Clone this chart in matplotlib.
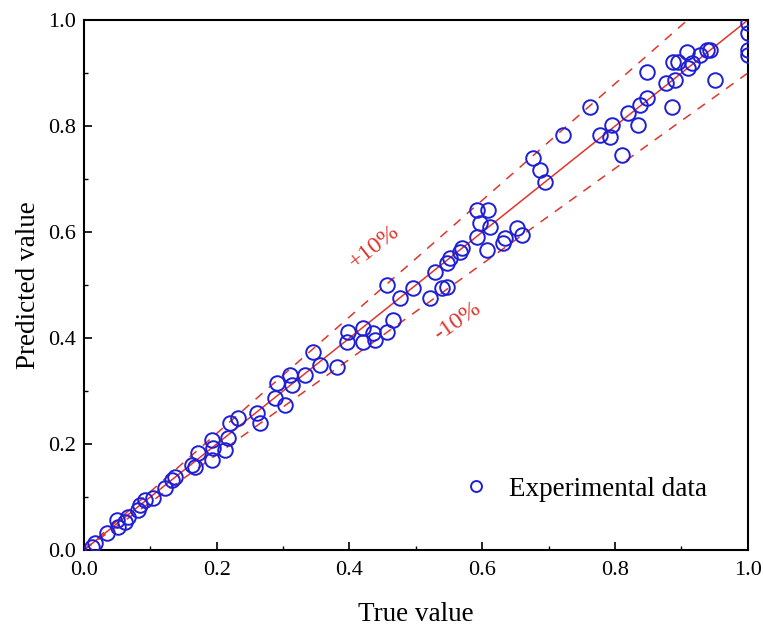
import matplotlib
matplotlib.use("Agg")
import matplotlib.pyplot as plt
import numpy as np
from matplotlib.ticker import MultipleLocator

true_vals = [0.012, 0.017, 0.035, 0.051, 0.062, 0.050, 0.066, 0.081, 0.084, 0.092,
             0.104, 0.122, 0.133, 0.137, 0.163, 0.172, 0.167, 0.193, 0.193, 0.194,
             0.212, 0.217, 0.220, 0.232,
             0.261, 0.265, 0.291, 0.288, 0.303, 0.310, 0.313, 0.333, 0.345, 0.355,
             0.381, 0.396, 0.398, 0.420, 0.420, 0.435, 0.438, 0.456, 0.465, 0.456,
             0.476, 0.495, 0.521, 0.539, 0.547, 0.529, 0.547, 0.551, 0.566,
             0.569, 0.592, 0.607, 0.611, 0.596, 0.592, 0.608, 0.631, 0.634, 0.652,
             0.660, 0.676, 0.687, 0.694, 0.810,
             0.721, 0.762, 0.777, 0.792, 0.795, 0.819, 0.834, 0.837, 0.848, 0.848,
             0.877, 0.886, 0.887, 0.890, 0.895, 0.908, 0.910, 0.916, 0.928, 0.938,
             0.943, 0.950, 1.000, 1.000, 1.000, 1.000]
pred_vals = [0.006, 0.013, 0.032, 0.043, 0.053, 0.057, 0.062, 0.075, 0.085, 0.094,
             0.098, 0.117, 0.132, 0.138, 0.160, 0.183, 0.157, 0.170, 0.208, 0.192,
             0.189, 0.211, 0.240, 0.249,
             0.258, 0.240, 0.315, 0.287, 0.274, 0.330, 0.311, 0.330, 0.374, 0.349,
             0.345, 0.392, 0.411, 0.419, 0.392, 0.409, 0.396, 0.411, 0.434, 0.500,
             0.475, 0.494, 0.475, 0.494, 0.496, 0.525, 0.542, 0.551, 0.562,
             0.570, 0.591, 0.566, 0.609, 0.617, 0.642, 0.642, 0.579, 0.589, 0.608,
             0.594, 0.740, 0.717, 0.694, 0.745,
             0.783, 0.836, 0.783, 0.779, 0.802, 0.825, 0.802, 0.840, 0.853, 0.902,
             0.881, 0.836, 0.921, 0.887, 0.921, 0.940, 0.909, 0.919, 0.934, 0.943,
             0.943, 0.887, 0.994, 0.975, 0.943, 0.934]

x_ticks = [0.0, 0.2, 0.4, 0.6, 0.8, 1.0]
y_ticks = [0.0, 0.2, 0.4, 0.6, 0.8, 1.0]

plt.rcParams['font.family'] = ['Liberation Serif', 'DejaVu Serif']

fig = plt.figure(figsize=(7.63, 6.30), dpi=100)
ax = fig.add_axes([0.110, 0.127, 0.870, 0.841])

red = '#e3342c'
line = np.array([0.0, 1.0])
ax.plot(line, line, color=red, lw=1.1, zorder=1)
ax.plot(line, 1.1 * line, color=red, lw=1.1, ls=(0, (6, 5.5)), zorder=1)
ax.plot(line, 0.9 * line, color=red, lw=1.1, ls=(0, (6, 5.5)), zorder=1)

ax.plot(true_vals, pred_vals, 'o', ms=10.5, mfc='none', mec='#1f1fd6', mew=1.4,
        ls='none', label='Experimental data', zorder=3)

ax.text(0.438, 0.572, '+10%', color=red, fontsize=17.5, rotation=38,
        ha='center', va='center')
ax.text(0.563, 0.432, '-10%', color=red, fontsize=17.5, rotation=35,
        ha='center', va='center')

ax.set_xlim(0, 1)
ax.set_ylim(0, 1)
ax.set_xticks(x_ticks)
ax.set_yticks(y_ticks)
ax.set_xticklabels([f'{v:.1f}' for v in x_ticks])
ax.set_yticklabels([f'{v:.1f}' for v in y_ticks])
ax.xaxis.set_minor_locator(MultipleLocator(0.1))
ax.yaxis.set_minor_locator(MultipleLocator(0.1))
ax.tick_params(which='major', direction='in', length=6, width=1.2, labelsize=16)
ax.tick_params(axis='x', which='major', pad=8)
ax.tick_params(axis='y', which='major', pad=6)
ax.tick_params(which='minor', direction='in', length=3, width=1.0)
for s in ax.spines.values():
    s.set_linewidth(1.5)

ax.set_xlabel('True value', fontsize=19.5, labelpad=16)
ax.set_ylabel('Predicted value', fontsize=19.5, labelpad=5)

leg = ax.legend(loc='center right', bbox_to_anchor=(0.975, 0.115), frameon=False,
                fontsize=19.5, markerscale=0.75, handletextpad=0.4,
                handlelength=1.6)

fig.savefig('out.png', dpi=100)
